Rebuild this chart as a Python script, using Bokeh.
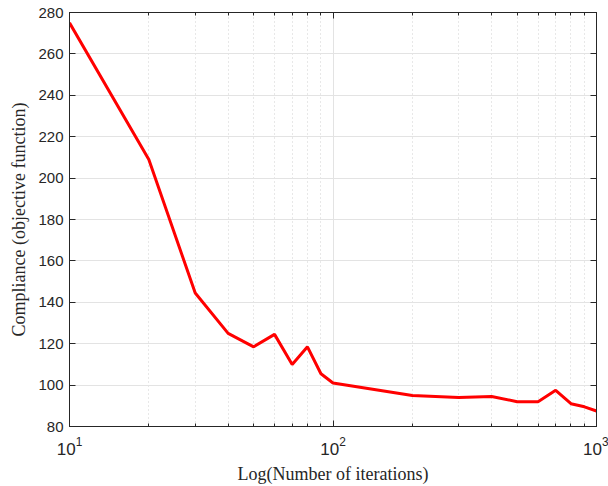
from bokeh.plotting import figure
from bokeh.embed import file_html
from bokeh.resources import INLINE
from bokeh.models import LinearAxis, FixedTicker, Range1d

iterations = [10, 20, 30, 40, 50, 60, 70, 80, 90, 100, 200, 300, 400, 500, 600, 700, 800, 900, 1000]
compliance = [275, 209, 144.5, 125, 118.5, 124.5, 110, 118.5, 105.5, 101, 95, 94, 94.5, 92, 92, 97.5, 91, 89.5, 87.5]
y_ticks = [80, 100, 120, 140, 160, 180, 200, 220, 240, 260, 280]
x_major = [10, 100, 1000]
x_minor = [20, 30, 40, 50, 60, 70, 80, 90, 200, 300, 400, 500, 600, 700, 800, 900]

p = figure(width=608, height=486, x_axis_type="log", output_backend="svg",
           toolbar_location=None, x_range=Range1d(10, 1000), y_range=Range1d(80, 280),
           x_axis_label="Log(Number of iterations)",
           y_axis_label="Compliance (objective function)")
p.min_border_left = 69
p.min_border_right = 12
p.min_border_top = 12
p.min_border_bottom = 58
p.outline_line_color = "#262626"
p.background_fill_color = "white"
p.border_fill_color = "white"

p.line(iterations, compliance, line_color="#ff0000", line_width=3)

p.yaxis.ticker = FixedTicker(ticks=y_ticks)
p.xaxis.ticker = FixedTicker(ticks=x_major, minor_ticks=x_minor)

for ax in [p.xaxis[0], p.yaxis[0]]:
    ax.axis_line_color = "#262626"
    ax.major_tick_line_color = "#262626"
    ax.minor_tick_line_color = "#262626"
    ax.major_tick_in = 6
    ax.major_tick_out = 0
    ax.minor_tick_in = 3
    ax.minor_tick_out = 0
    ax.major_label_text_font = "Liberation Sans"
    ax.major_label_text_font_size = "15px"
    ax.major_label_text_color = "#262626"
    ax.axis_label_text_font = "Liberation Serif"
    ax.axis_label_text_font_size = "18px"
    ax.axis_label_text_font_style = "normal"
    ax.axis_label_text_color = "#262626"
p.yaxis.minor_tick_line_color = None
p.xaxis.major_label_text_font_size = "17px"
p.xaxis.major_label_standoff = 10
p.xaxis.axis_label_standoff = 6
p.yaxis.major_label_standoff = 6
p.yaxis.axis_label_standoff = 6

right = LinearAxis(ticker=FixedTicker(ticks=y_ticks),
                   major_label_overrides={t: "" for t in y_ticks},
                   major_label_text_font_size="1px",
                   axis_line_color="#262626", major_tick_line_color="#262626",
                   major_tick_in=6, major_tick_out=0, minor_tick_line_color=None)
p.add_layout(right, "right")
top = LinearAxis(ticker=FixedTicker(ticks=x_major, minor_ticks=x_minor),
                 major_label_overrides={t: "" for t in x_major},
                 major_label_text_font_size="1px",
                 axis_line_color="#262626", major_tick_line_color="#262626",
                 minor_tick_line_color="#262626",
                 major_tick_in=6, major_tick_out=0, minor_tick_in=3, minor_tick_out=0)
p.add_layout(top, "above")

p.ygrid.grid_line_color = "#e3e3e3"
p.ygrid.grid_line_width = 1
p.xgrid.grid_line_color = "#e3e3e3"
p.xgrid.minor_grid_line_color = "#d0d0d0"
p.xgrid.minor_grid_line_dash = "1 3"

open("out.html", "w").write(file_html(p, INLINE))
